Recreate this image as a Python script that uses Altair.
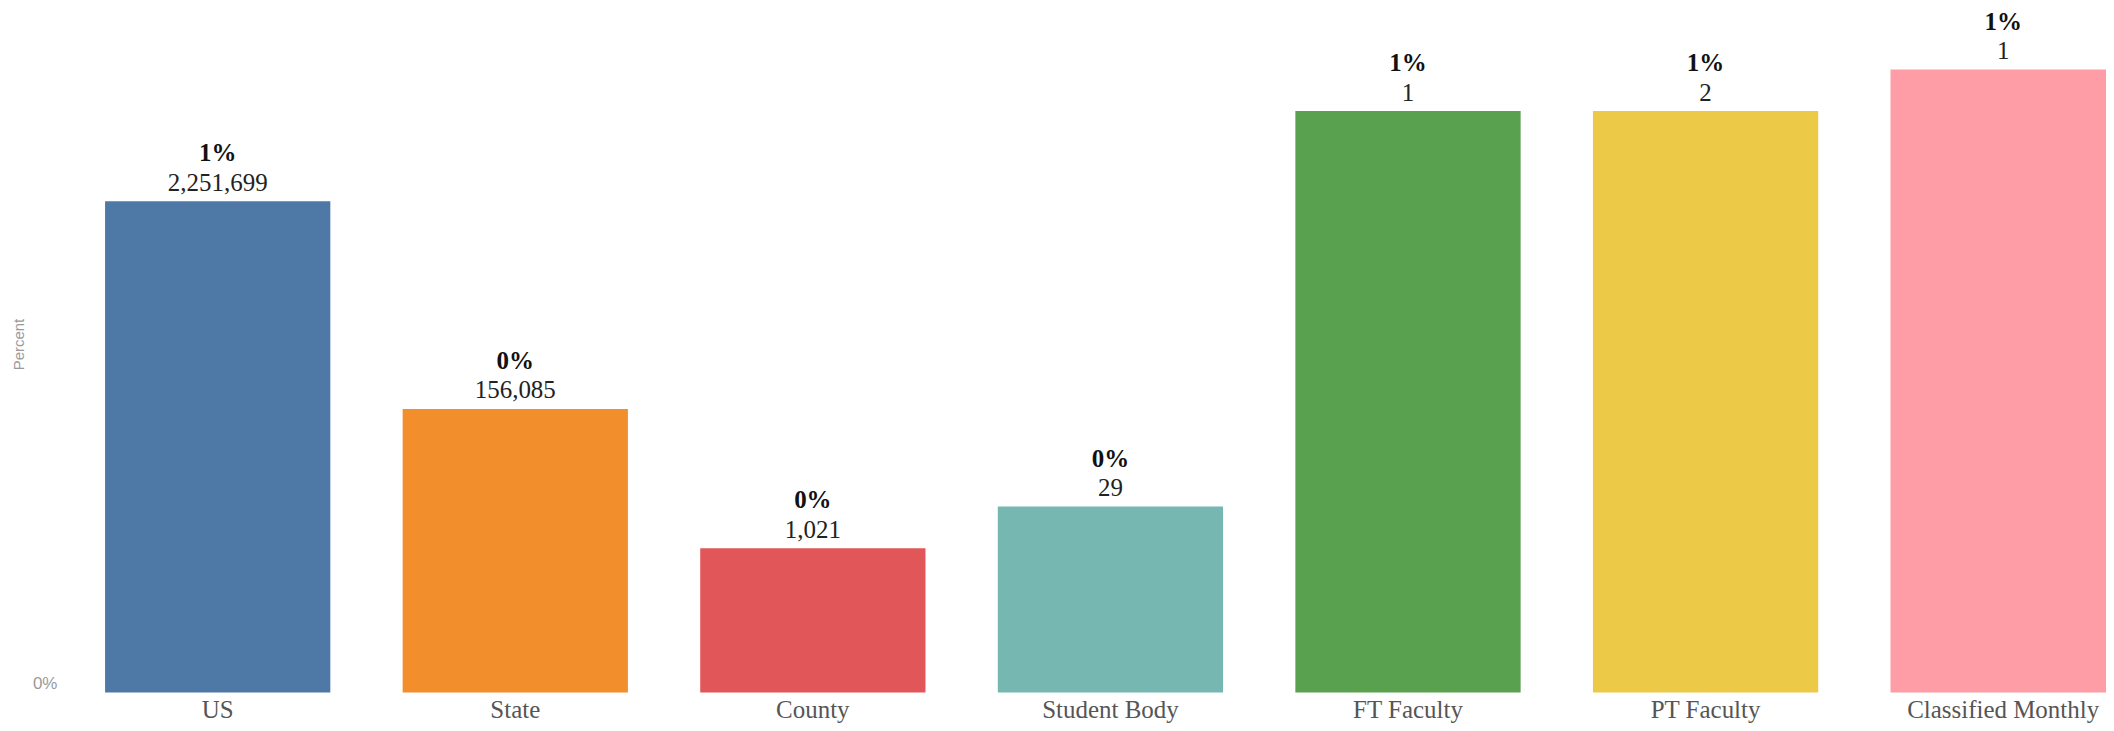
import altair as alt
import pandas as pd

categories = ["US", "State", "County", "Student Body", "FT Faculty", "PT Faculty", "Classified Monthly"]
percents = [0.0079, 0.00456, 0.00232, 0.00299, 0.00935, 0.00935, 0.01002]
counts = [2251699, 156085, 1021, 29, 1, 2, 1]
colors = ["#4e79a7", "#f28e2b", "#e15759", "#76b7b2", "#59a14f", "#edc948", "#ff9da7"]

df = pd.DataFrame({"Category": categories, "Percent": percents, "Count": counts})

x = alt.X(
    "Category:N",
    sort=categories,
    scale=alt.Scale(range=[0, 2086], paddingInner=0.243, paddingOuter=0.1215),
    axis=alt.Axis(
        title=None, labelAngle=0, labelFont="Liberation Serif", labelFontSize=25,
        labelColor="#555555", labelBaseline="alphabetic", labelPadding=25,
        ticks=False, tickSize=0, domain=False, labelLimit=400, labelOverlap=False,
    ),
)
y = alt.Y(
    "Percent:Q",
    scale=alt.Scale(domain=[0, 0.011]),
    axis=alt.Axis(
        values=[0], format=".0%", title="Percent", titleFont="Liberation Sans",
        titleFontSize=15, titleFontWeight="normal", titleColor="#9a9a9a",
        titleX=-50, titleY=336, titleBaseline="middle",
        labelFont="Liberation Sans", labelFontSize=17, labelColor="#9a9a9a",
        labelPadding=12, grid=False, domain=False, ticks=False, tickSize=0,
        labelFlush=True,
    ),
)

base = alt.Chart(df)

bars = base.mark_bar().encode(
    x=x,
    y=y,
    color=alt.Color("Category:N", sort=categories,
                    scale=alt.Scale(domain=categories, range=colors), legend=None),
)

count_text = base.mark_text(
    dy=-10.5, baseline="alphabetic", font="Liberation Serif", fontSize=25, color="#222222"
).encode(x=x, y=y, text=alt.Text("Count:Q", format=","))

pct_text = base.mark_text(
    dy=-40, baseline="alphabetic", font="Liberation Serif", fontSize=25,
    fontWeight="bold", color="#111111"
).encode(x=x, y=y, text=alt.Text("Percent:Q", format=".0%"))

chart = (
    alt.layer(bars, count_text, pct_text)
    .properties(
        width=2040, height=685, autosize="none",
        padding={"left": 61, "top": 0, "right": 0, "bottom": 30},
    )
    .configure_view(stroke=None)
)

chart.save("out.html", embed_options={"renderer": "svg", "actions": False})
